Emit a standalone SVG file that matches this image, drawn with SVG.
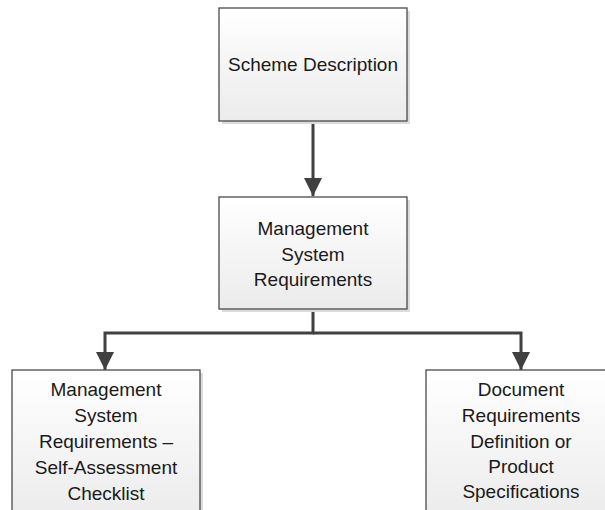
<svg xmlns="http://www.w3.org/2000/svg" width="605" height="510" viewBox="0 0 605 510">
<style>
.box{fill:url(#g);stroke:#4a4a4a;stroke-width:1.3}
.sh{fill:#dcdcdc}
.t{font-family:"Liberation Sans",Arial,sans-serif;font-size:19px;fill:#1a1a1a;text-anchor:middle}
.c{fill:none;stroke:#404040;stroke-width:3}
</style>
<defs>
<linearGradient id="g" x1="0" y1="0" x2="0" y2="1">
<stop offset="0" stop-color="#ffffff"/>
<stop offset="1" stop-color="#ebebeb"/>
</linearGradient>
<marker id="a" markerUnits="userSpaceOnUse" markerWidth="20" markerHeight="20" viewBox="0 0 20 20" refX="18" refY="10" orient="auto">
<path d="M0,1 L18,10 L0,19 Z" fill="#404040"/>
</marker>
</defs>
<g id="connectors">
<path class="c" d="M313,121 V196" marker-end="url(#a)"/>
<path class="c" d="M313,309 V333 H105 V370" marker-end="url(#a)"/>
<path class="c" d="M313,333 H521 V370" marker-end="url(#a)"/>
</g>
<g id="scheme">
<rect class="sh" x="222" y="11" width="188" height="113"/>
<rect class="box" x="219" y="8" width="188" height="113"/>
<text class="t" x="313" y="71">Scheme Description</text>
</g>
<g id="msr">
<rect class="sh" x="222" y="200" width="188" height="112"/>
<rect class="box" x="219" y="197" width="188" height="112"/>
<text class="t" x="313" y="235">Management</text>
<text class="t" x="313" y="261">System</text>
<text class="t" x="313" y="286">Requirements</text>
</g>
<g id="checklist">
<rect class="sh" x="15" y="373" width="188" height="150"/>
<rect class="box" x="12" y="370" width="188" height="150"/>
<text class="t" x="106" y="396">Management</text>
<text class="t" x="106" y="422">System</text>
<text class="t" x="106" y="448">Requirements –</text>
<text class="t" x="106" y="474">Self-Assessment</text>
<text class="t" x="106" y="500">Checklist</text>
</g>
<g id="docreq">
<rect class="sh" x="429" y="373" width="190" height="150"/>
<rect class="box" x="426" y="370" width="190" height="150"/>
<text class="t" x="521" y="396">Document</text>
<text class="t" x="521" y="422">Requirements</text>
<text class="t" x="521" y="448">Definition or</text>
<text class="t" x="521" y="473">Product</text>
<text class="t" x="521" y="498">Specifications</text>
</g>
</svg>
